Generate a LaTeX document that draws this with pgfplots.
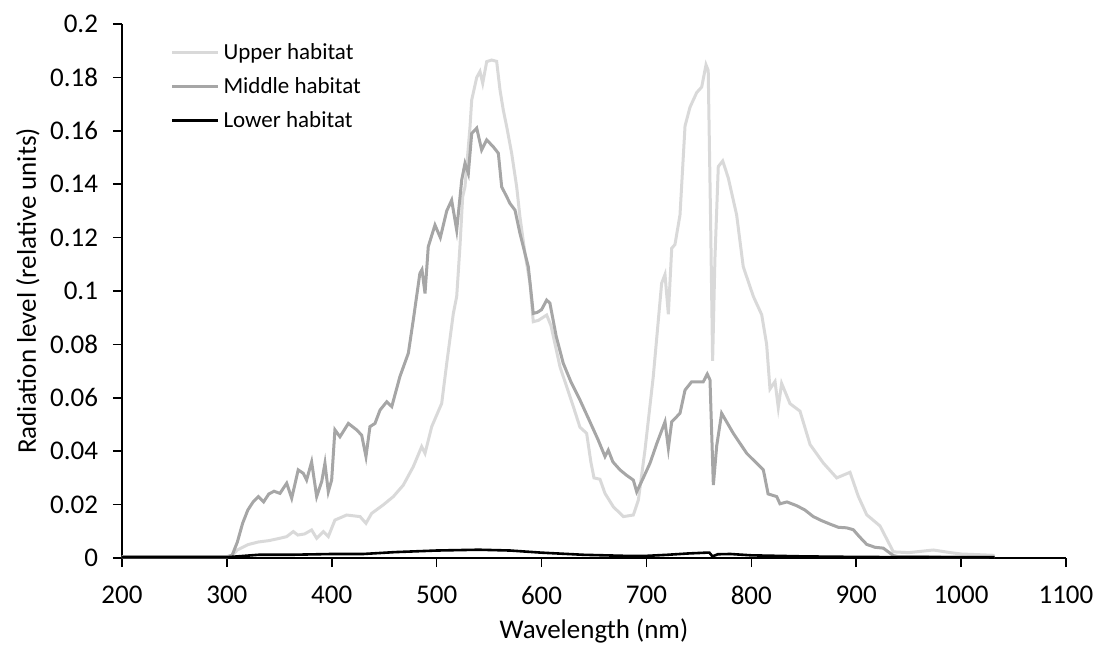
\documentclass[border=0pt]{standalone}
\usepackage{pgfplots}
\pgfplotsset{compat=1.18}
\usepackage{fontspec}
\setmainfont{Carlito}
\definecolor{upperc}{RGB}{217,217,217}
\definecolor{middlec}{RGB}{166,166,166}
\begin{document}
\begin{tikzpicture}
\useasboundingbox (-61bp,-44.5bp) rectangle (489bp,279bp);
\begin{axis}[
  at={(0,0)}, anchor=south west,
  scale only axis, width=472bp, height=267bp,
  xmin=200, xmax=1100, ymin=0, ymax=0.2,
  axis lines*=left,
  axis line style={line width=0.8bp},
  tick align=outside,
  major tick length=4.5bp,
  tick style={black, line width=0.8bp},
  xtick={200,300,...,1100},
  ytick={0,0.02,0.04,0.06,0.08,0.1,0.12,0.14,0.16,0.18,0.2},
  /pgf/number format/assume math mode=true,
  /pgf/number format/1000 sep={},
  yticklabel style={/pgf/number format/fixed, /pgf/number format/precision=2, xshift=-4bp},
  xticklabel style={yshift=-6bp},
  tick label style={font=\fontsize{13.5bp}{16bp}\selectfont},
  xlabel={Wavelength (nm)},
  ylabel={Radiation level (relative units)},
  every axis x label/.style={at={(axis description cs:0.5,0)}, anchor=base, yshift=-40bp,
    font=\fontsize{13.5bp}{16bp}\selectfont},
  every axis y label/.style={at={(axis description cs:-0.0996,0.5)}, anchor=center, rotate=90,
    font=\fontsize{13.5bp}{16bp}\selectfont},
  legend style={at={(axis description cs:0.051,0.972)}, anchor=north west, draw=none, fill=none,
    font=\fontsize{11.5bp}{13bp}\selectfont, row sep=3.5bp, inner sep=0pt},
  legend cell align=left,
  legend image code/.code={\draw[#1] (0bp,0bp) -- (23bp,0bp);},
  clip=false,
]
\addplot[upperc, line width=1.5bp] coordinates {
(200,0.0004) (300,0.0004) (305,0.001) (310,0.003) (320,0.005) (330,0.006) (340,0.0065)
(350.6,0.0074) (357,0.008) (363.3,0.0099) (367.6,0.0086) (374,0.009) (380.8,0.0105)
(385.6,0.0074) (392,0.0099) (396.7,0.008) (403,0.0142) (414.2,0.0161) (427,0.0155)
(432.6,0.013) (438,0.0167) (449.1,0.0199) (458.7,0.023) (468.2,0.0273) (477.7,0.0342)
(485.7,0.0417) (488.9,0.0392) (495.3,0.0492) (504.8,0.0579) (509.6,0.0729) (515.9,0.0916)
(519.1,0.0979) (522.2,0.1166) (524.8,0.1353) (527,0.139) (531.8,0.1615) (533.4,0.1715)
(538.2,0.180) (541.3,0.1822) (543.9,0.1778) (547.7,0.1859) (552.5,0.1865) (557.2,0.186)
(560.4,0.1753) (563.5,0.1678) (566.8,0.1615) (571.5,0.1516) (576.3,0.139) (579.4,0.1278)
(584.2,0.1141) (589,0.1029) (592.1,0.0885) (597,0.089) (604.9,0.091) (609,0.087)
(617.6,0.0716) (630.3,0.0567) (636.6,0.049) (643,0.0467) (647,0.036) (650,0.030)
(655.7,0.0295) (660.5,0.0242) (668.4,0.0192) (678,0.0155) (687.5,0.0161) (692.3,0.0217)
(698.6,0.0404) (706.5,0.0679) (714.5,0.1029) (717.7,0.1062) (720.9,0.0913) (724.1,0.116)
(727.2,0.1174) (732,0.1285) (736.8,0.1618) (741.5,0.1688) (747.9,0.1743) (752.7,0.1764)
(756.8,0.1847) (758.9,0.1826) (761.2,0.1258) (763.1,0.0738) (765.3,0.112) (768.5,0.1466)
(772.7,0.1487) (778,0.1424) (786,0.1285) (792.3,0.1091) (801.9,0.098) (809.9,0.0911)
(814.6,0.08) (817.8,0.0633) (822.6,0.0661) (825.7,0.0564) (828.9,0.0654) (836.9,0.0578)
(846.4,0.055) (856,0.0425) (868.6,0.0356) (881.4,0.03) (894.1,0.0321) (902,0.0231)
(910,0.0162) (922.7,0.012) (935.4,0.0023) (950,0.002) (973.5,0.003) (990,0.002)
(1000,0.0015) (1032,0.001)
};
\addlegendentry{Upper habitat}
\addplot[middlec, line width=1.5bp] coordinates {
(200,0.0005) (250,0.0005) (300,0.0005) (305,0.001) (310,0.006) (315,0.013) (320,0.018)
(325,0.021) (330,0.023) (335,0.021) (340,0.024) (345,0.025) (350.6,0.0242) (357,0.028)
(361.8,0.0224) (368,0.033) (372.9,0.0317) (376,0.0292) (380.8,0.036) (385.6,0.023)
(390.4,0.0286) (393.5,0.0355) (396.7,0.0248) (399.9,0.0292) (403,0.048) (407.8,0.0454)
(415.8,0.0504) (423.7,0.048) (428.5,0.046) (432.6,0.038) (436.4,0.0492) (441.2,0.0504)
(446,0.0554) (452.4,0.0585) (457.2,0.0567) (465,0.068) (473,0.0767) (477.7,0.0891)
(484,0.1066) (486,0.108) (488.9,0.0991) (492,0.1166) (498.4,0.1247) (503.5,0.12)
(509.6,0.130) (514.3,0.134) (519.1,0.1228) (523.9,0.1416) (527,0.1478) (530.2,0.144)
(533.4,0.159) (538.2,0.161) (542.9,0.1528) (547.7,0.1566) (554,0.154) (558.8,0.1516)
(562,0.139) (566.8,0.1353) (569.9,0.1328) (574.7,0.1303) (579.4,0.1216) (584.2,0.1141)
(587.4,0.109) (590.6,0.0973) (592.1,0.0916) (596,0.092) (600,0.093) (604.9,0.0966)
(608,0.0954) (614,0.083) (620.7,0.0729) (628,0.066) (636.6,0.0592) (645,0.052)
(654,0.0442) (660.5,0.038) (663.6,0.0404) (668,0.036) (674.8,0.033) (681,0.031)
(687.5,0.0292) (690.7,0.0248) (697,0.030) (703.4,0.0355) (710,0.043) (717.7,0.051)
(720.9,0.0411) (724.1,0.051) (732,0.0542) (736.8,0.0629) (743.1,0.066) (754.2,0.066)
(758,0.0689) (760.6,0.0667) (763.8,0.0273) (767,0.042) (771.7,0.0542) (782.8,0.0467)
(795.6,0.0392) (811.4,0.033) (812.5,0.031) (816,0.024) (824.2,0.023) (827.3,0.0203)
(834,0.021) (843.2,0.0196) (851,0.018) (859.1,0.0155) (867,0.014) (875,0.0127)
(883,0.0115) (890.9,0.0113) (897.2,0.0106) (903,0.008) (910,0.0051) (918,0.004)
(925.8,0.0037) (935.4,0.0009) (940,0.0005) (1032,0.0004)
};
\addlegendentry{Middle habitat}
\addplot[black, line width=1.3bp] coordinates {
(200,0.0003) (300,0.0003) (310,0.0006) (330,0.0012) (360,0.0012) (400,0.0015) (430,0.0015)
(460,0.0022) (500,0.0028) (540,0.0031) (570,0.0028) (600,0.002) (640,0.0012) (680,0.0008)
(700,0.0008) (720,0.0012) (740,0.0017) (757,0.002) (760,0.002) (763,0.0006) (768,0.0014)
(780,0.0015) (800,0.001) (850,0.0006) (900,0.0004) (950,0.0003) (1032,0.0002)
};
\addlegendentry{Lower habitat}
\end{axis}
\end{tikzpicture}
\end{document}
